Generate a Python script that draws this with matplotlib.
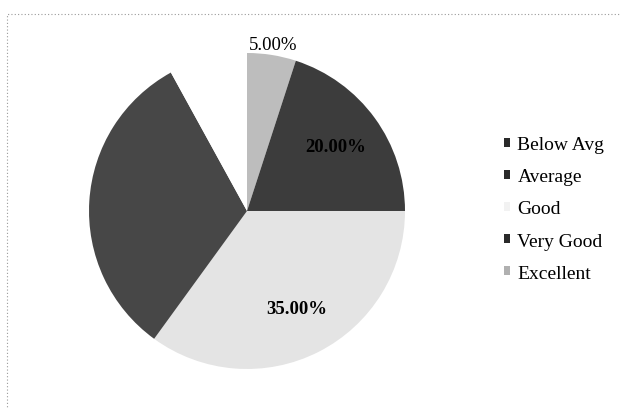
import matplotlib.pyplot as plt
from matplotlib.patches import Patch, Rectangle

# Data
categories = ["Below Avg", "Average", "Good", "Very Good", "Excellent"]
shares = [5, 20, 35, 32, 8]
slice_colors = ["#bdbdbd", "#3c3c3c", "#e4e4e4", "#474747", "#ffffff"]
legend_colors = ["#2a2a2a", "#2a2a2a", "#f2f2f2", "#2a2a2a", "#b0b0b0"]
shown_labels = [True, True, True, False, False]

plt.rcParams["font.family"] = ["Liberation Serif", "DejaVu Serif"]

fig = plt.figure(figsize=(6.21, 4.10), dpi=100)

# faint dotted border from the scan
fig.patches.append(Rectangle((0.011, -0.1), 1.2, 1.063, transform=fig.transFigure,
                             fill=False, ec="#9a9a9a", lw=0.8, ls=(0, (1, 2))))

ax = fig.add_axes([0.1433, 0.0976, 0.5089, 0.7707])
wedges, texts, autotexts = ax.pie(shares, colors=slice_colors, startangle=90,
                                  counterclock=False, radius=1,
                                  autopct="%.2f%%", pctdistance=0.69,
                                  wedgeprops=dict(linewidth=0))
ax.set_xlim(-1, 1)
ax.set_ylim(-1, 1)
ax.set_aspect("equal")

for i, t in enumerate(autotexts):
    t.set_fontsize(13.5)
    t.set_color("black")
    if not shown_labels[i]:
        t.set_visible(False)
    elif shares[i] < 10:
        x, y = t.get_position()
        t.set_position((x / 0.69 * 1.07, y / 0.69 * 1.07))
    else:
        t.set_fontweight("bold")

handles = [Patch(facecolor=c, edgecolor="none") for c in legend_colors]
fig.legend(handles, categories, loc="center left", bbox_to_anchor=(0.783, 0.488),
           frameon=False, fontsize=14, handlelength=0.32, handleheight=0.32,
           handletextpad=0.38, labelspacing=0.78)

fig.savefig("out.png", dpi=100)
